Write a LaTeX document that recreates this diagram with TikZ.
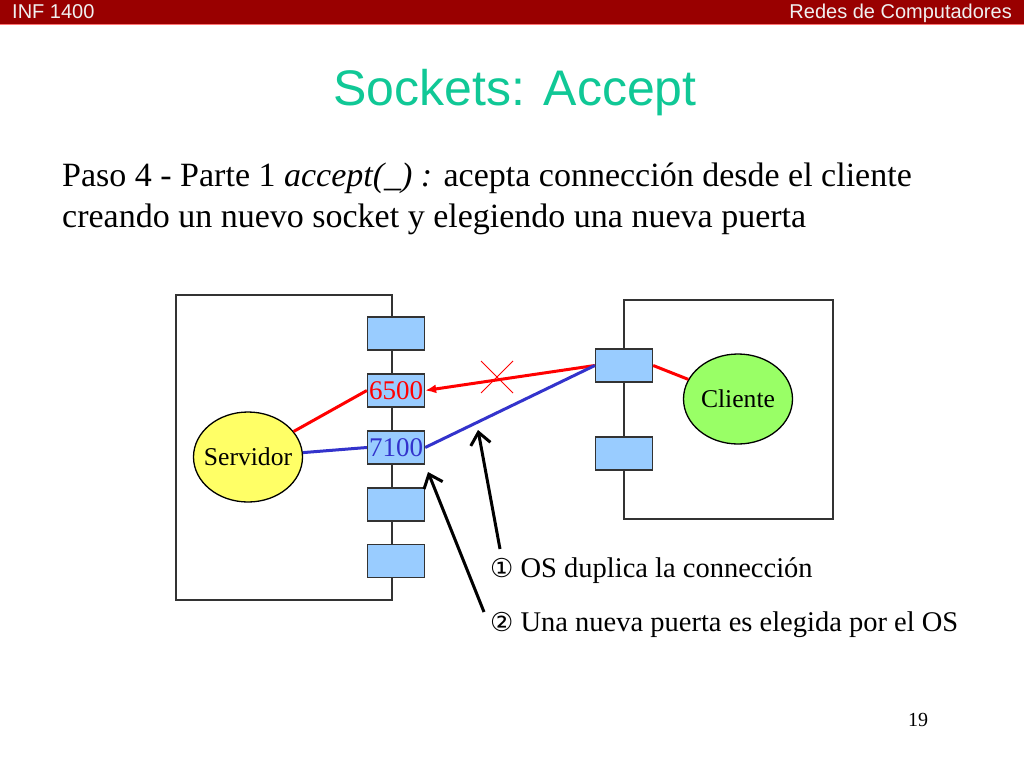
\documentclass[tikz,border=0pt]{standalone}
\usepackage{fontspec}
\setmainfont{Liberation Serif}
\newfontfamily\headfont{Liberation Sans}
\newfontfamily\symfont{DejaVu Sans}
\usetikzlibrary{arrows.meta,shapes.geometric}
\definecolor{headred}{RGB}{153,0,0}
\definecolor{titlegreen}{RGB}{16,200,150}
\definecolor{portblue}{RGB}{153,204,255}
\definecolor{servyellow}{RGB}{255,255,102}
\definecolor{cligreen}{RGB}{153,255,102}
\definecolor{linkblue}{RGB}{51,51,204}
\tikzset{
  port/.style={draw=black!80, line width=1.3pt, fill=portblue, minimum width=57pt, minimum height=33pt, inner sep=0pt, font=\fontsize{27}{27}\selectfont},
  host/.style={ellipse, draw, line width=1.3pt, minimum width=109pt, minimum height=90pt, inner ysep=0pt, inner xsep=-6pt, font=\fontsize{25.6}{26}\selectfont},
  link/.style={line width=3pt},
  pointer/.style={line width=3pt, -{Straight Barb[length=12pt,width=20pt,line width=3pt]}}
}
\begin{document}
\begin{tikzpicture}[x=1pt,y=-1pt]
        \useasboundingbox (0,0) rectangle (1024,768);
        \fill[white] (0,0) rectangle (1024,768);
        % Header bar
        \fill[headred] (0,0) rectangle (1024,24);
        \draw[red!55, line width=1pt] (0,24.5) -- (1024,24.5);
        \node[anchor=base west, inner sep=0pt, text=white!94!black, font=\headfont\fontsize{20}{20}\selectfont] (course) at (12,19) {INF 1400};
        \node[anchor=base east, inner sep=0pt, text=white!94!black, font=\headfont\fontsize{20}{20}\selectfont] (subject) at (1012,19) {Redes de Computadores};
        % Title and text
        \node[anchor=base, inner sep=0pt, text=titlegreen, font=\headfont\fontsize{50}{50}\selectfont] (title) at (515,105) {Sockets: Accept};
        \node[anchor=base west, inner sep=0pt, font=\fontsize{34}{41}\selectfont] (line1) at (62,186) {Paso 4 - Parte 1 \textit{accept(\_) :} acepta connección desde el cliente};
        \node[anchor=base west, inner sep=0pt, font=\fontsize{34}{41}\selectfont] (line2) at (62,227) {creando un nuevo socket y elegiendo una nueva puerta};
        % Server host
        \draw[black!80, line width=1.3pt] (392,295) -- (176,295) -- (176,600) -- (392,600) -- cycle;
        \node[port] (p1) at (396,333.5) {};
        \node[port, text=red] (p6500) at (396,390.5) {6500};
        \node[port, text=linkblue] (p7100) at (396,447.5) {7100};
        \node[port] (p4) at (396,504.5) {};
        \node[port] (p5) at (396,561) {};
        \node[host, fill=servyellow] (serv) at (248,457) {Servidor};
        % Client host
        \draw[black!80, line width=1.3pt] (624,300) rectangle (833,519);
        \node[port] (c1) at (624,365.5) {};
        \node[port] (c2) at (624,453.5) {};
        \node[host, fill=cligreen] (cli) at (738,399) {Cliente};
        % Connections
        \draw[link, red] (serv) -- (p6500.west);
        \draw[link, linkblue] (serv) -- (p7100.west);
        \draw[link, red] (c1.east) -- (cli);
        \draw[link, red, -{Latex[length=11pt,width=9pt]}] (c1.west) -- (p6500.east);
        \draw[link, linkblue] (c1.west) -- (p7100.east);
        % Crossed out
        \coordinate (cross) at (497,377);
        \draw[red, line width=0.9pt] ([shift={(-16,-16)}]cross) -- ([shift={(16,16)}]cross);
        \draw[red, line width=0.9pt] ([shift={(-16,16)}]cross) -- ([shift={(16,-16)}]cross);
        % Notes
        \node[anchor=base west, inner sep=0pt, font=\fontsize{28.5}{29}\selectfont] (note1) at (490,577) {{\symfont\fontsize{26}{26}\selectfont ①} OS duplica la connección};
        \node[anchor=base west, inner sep=0pt, font=\fontsize{28.5}{29}\selectfont] (note2) at (490,631) {{\symfont\fontsize{26}{26}\selectfont ②} Una nueva puerta es elegida por el OS};
        \coordinate (aim1) at (478,430);
        \coordinate (aim2) at (428,472);
        \coordinate (tail1) at (500,549);
        \coordinate (tail2) at (484,612);
        \draw[pointer] (tail1) -- (aim1);
        \draw[pointer] (tail2) -- (aim2);
        % Page number
        \node[anchor=base, inner sep=0pt, font=\fontsize{20}{20}\selectfont] (page) at (918,726) {19};
      \end{tikzpicture}
\end{document}
